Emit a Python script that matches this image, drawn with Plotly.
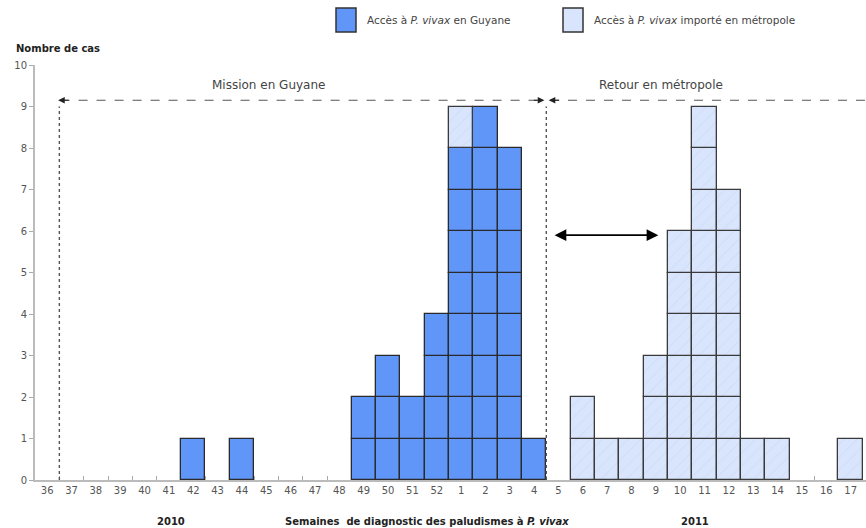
import plotly.graph_objects as go

weeks = ["36", "37", "38", "39", "40", "41", "42", "43", "44", "45", "46", "47", "48",
         "49", "50", "51", "52", "1", "2", "3", "4", "5", "6", "7", "8", "9", "10",
         "11", "12", "13", "14", "15", "16", "17"]
guyane = [0, 0, 0, 0, 0, 0, 1, 0, 1, 0, 0, 0, 0,
          2, 3, 2, 4, 8, 9, 8, 1, 0, 0, 0, 0, 0, 0,
          0, 0, 0, 0, 0, 0, 0]
metropole = [0, 0, 0, 0, 0, 0, 0, 0, 0, 0, 0, 0, 0,
             0, 0, 0, 0, 1, 0, 0, 0, 0, 2, 1, 1, 3, 6,
             9, 7, 1, 1, 0, 0, 1]
yticks = list(range(0, 11))

FONT = "DejaVu Sans, Liberation Sans, Arial, sans-serif"
DARK = "#6096f8"
LIGHT = "#d9e5fc"

# plot area in pixels
L, R, T, B = 35, 866, 65, 480
PW, PH = R - L, B - T


def px(x):
    return (x - L) / PW


def py(y):
    return (B - y) / PH


# expand into unit cells (each case drawn as one square)
gx, gb = [], []
mx, mb = [], []
for w, g, m in zip(weeks, guyane, metropole):
    for k in range(g):
        gx.append(w); gb.append(k)
    for k in range(m):
        mx.append(w); mb.append(g + k)

fig = go.Figure()
fig.add_trace(go.Bar(x=gx, y=[1] * len(gx), base=gb, width=1,
                     marker=dict(color=DARK, line=dict(color="#2a2a2a", width=1.3)),
                     name="Accès à P. vivax en Guyane", showlegend=False))
fig.add_trace(go.Bar(x=mx, y=[1] * len(mx), base=mb, width=1,
                     marker=dict(color=LIGHT, line=dict(color="#3a3a3a", width=1.3),
                                 pattern=dict(shape="/", fillmode="overlay",
                                              fgcolor="#c6d5f2", size=9, solidity=0.12)),
                     name="Accès à P. vivax importé en métropole", showlegend=False))

fig.update_layout(
    width=866, height=528,
    margin=dict(l=L, r=866 - R, t=T, b=528 - B),
    paper_bgcolor="white", plot_bgcolor="white",
    barmode="overlay", bargap=0,
    font=dict(family=FONT, size=10, color="#555"),
    xaxis=dict(type="category", categoryorder="array", categoryarray=weeks,
               range=[-0.5, 33.63], showgrid=False, showline=True, linecolor="#bbbbbb",
               linewidth=2, ticks="inside", ticklen=4, tickcolor="#aaaaaa",
               tickson="boundaries", layer="below traces",
               tickfont=dict(size=10, color="#555")),
    yaxis=dict(range=[0, 10], tickvals=yticks, showgrid=False, zeroline=False,
               showline=True, linecolor="#bbbbbb", linewidth=2, ticks="outside",
               ticklen=4, tickcolor="#aaaaaa", layer="below traces",
               tickfont=dict(size=10, color="#555")),
)

shapes = []
annos = []
LC = "#555555"
# vertical dotted lines
for xv in [0.5, 20.5]:
    shapes.append(dict(type="line", xref="x", yref="y", x0=xv, x1=xv, y0=0, y1=9.0,
                       line=dict(color=LC, width=1.4, dash="dot")))
# horizontal dashed lines
shapes.append(dict(type="line", xref="x", yref="y", x0=0.55, x1=20.4, y0=9.15, y1=9.15,
                   line=dict(color=LC, width=1.1, dash="dash")))
shapes.append(dict(type="line", xref="x", yref="y", x0=20.65, x1=33.63, y0=9.15, y1=9.15,
                   line=dict(color=LC, width=1.1, dash="dash")))
# small arrowheads at dashed line ends
for xt, ax in [(0.45, 12), (20.42, -12), (20.6, 12)]:
    annos.append(dict(x=xt, y=9.15, xref="x", yref="y", text="", showarrow=True,
                      ax=ax, ay=0, arrowhead=2, arrowsize=1.1, arrowwidth=1.2,
                      arrowcolor="#222"))
# double-headed arrow between the two periods
annos.append(dict(x=25.1, y=5.9, ax=20.78, ay=5.9, xref="x", yref="y", axref="x", ayref="y",
                  text="", showarrow=True, arrowhead=2, startarrowhead=2,
                  arrowside="end+start", arrowsize=1.3, startarrowsize=1.3,
                  arrowwidth=1.8, arrowcolor="#000"))
# period labels
annos.append(dict(x=9.1, y=9.52, xref="x", yref="y", text="Mission en Guyane",
                  showarrow=False, font=dict(size=12, color="#444")))
annos.append(dict(x=25.2, y=9.52, xref="x", yref="y", text="Retour en métropole",
                  showarrow=False, font=dict(size=12, color="#444")))
# y axis title
annos.append(dict(x=px(14), y=py(48), xref="paper", yref="paper", text="<b>Nombre de cas</b>",
                  showarrow=False, xanchor="left", yanchor="middle",
                  font=dict(size=10, color="#222")))
# bottom labels
for txt, cx in [("<b>2010</b>", 171),
                ("<b>Semaines  de diagnostic des paludismes à <i>P. vivax</i></b>", 427),
                ("<b>2011</b>", 695)]:
    annos.append(dict(x=px(cx), y=py(521), xref="paper", yref="paper", text=txt,
                      showarrow=False, xanchor="center", yanchor="middle",
                      font=dict(size=10, color="#222")))

# custom legend
for sx, col, txt in [(336, DARK, "Accès à <i>P. vivax</i> en Guyane"),
                     (563, LIGHT, "Accès à <i>P. vivax</i> importé en métropole")]:
    shapes.append(dict(type="rect", xref="paper", yref="paper",
                       x0=px(sx), x1=px(sx + 20), y0=py(32), y1=py(8),
                       fillcolor=col, line=dict(color="#333", width=1.5)))
    annos.append(dict(x=px(sx + 29), y=py(20), xref="paper", yref="paper",
                      text=txt, showarrow=False, xanchor="left", yanchor="middle",
                      font=dict(size=10.5, color="#444")))

fig.update_layout(shapes=shapes, annotations=annos)
fig.write_html("out.html", config={"displayModeBar": False},
               post_script="document.body.style.margin='0';document.body.style.padding='0';")
